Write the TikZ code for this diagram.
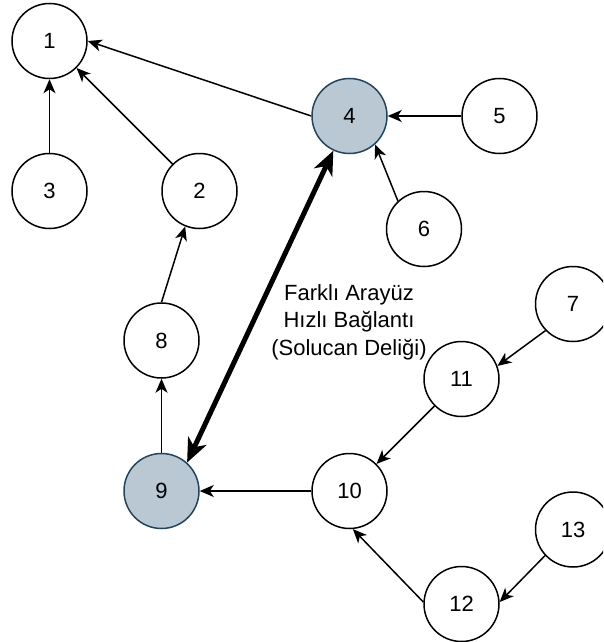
\documentclass[tikz,border=0pt]{standalone}
\usepackage{fontspec}
\setmainfont{Liberation Sans}
\usetikzlibrary{arrows.meta}
\definecolor{hubfill}{HTML}{BAC8D3}
\definecolor{hubdraw}{HTML}{23445D}
\tikzset{
x=1pt, y=-1pt, % one unit is one pixel of the sketch
every node/.style={font=\fontsize{22}{27.5}\selectfont}, % sets the text size
vertex/.style={circle, draw, line width=1.5pt, minimum size=75pt, inner sep=0pt}, % a plain node
hub/.style={vertex, fill=hubfill, draw=hubdraw}, % the two ends of the wormhole
link/.style={line width=1.5pt, -{Stealth[length=14pt, width=12pt, inset=4pt]}}, % ordinary edge
wormhole/.style={line width=5pt, {Stealth[length=24pt, width=20pt, inset=7pt]}-{Stealth[length=24pt, width=20pt, inset=7pt]}}, % the fast link
}
\begin{document}
\begin{tikzpicture}
            \clip (0,0) rectangle (603,642);
            \node[vertex] (n1) at (49.5,41) {1};
            \node[vertex] (n2) at (199.5,191) {2};
            \node[vertex] (n3) at (49.5,191) {3};
            \node[hub] (n4) at (349.5,116) {4};
            \node[vertex] (n5) at (499.5,116) {5};
            \node[vertex] (n6) at (424,229) {6};
            \node[vertex] (n7) at (573,304) {7};
            \node[vertex] (n8) at (161.5,340.5) {8};
            \node[hub] (n9) at (161.5,491) {9};
            \node[vertex] (n10) at (349.5,491) {10};
            \node[vertex] (n11) at (461.5,379) {11};
            \node[vertex] (n12) at (461.5,604) {12};
            \node[vertex] (n13) at (573,529.5) {13};
            \node[align=center] (lbl) at (349,322) {Farklı Arayüz\\Hızlı Bağlantı\\(Solucan Deliği)};

            \draw[link] (n3) -- (n1);
            \draw[link] (n2) -- (n1);
            \draw[link] (n4.west) -- (n1.east);
            \draw[link] (n5) -- (n4);
            \draw[link] (n6.133) -- (n4.-48);
            \draw[link] (n8.north) -- (n2.-112);
            \draw[link] (n9) -- (n8);
            \draw[link] (n10) -- (n9);
            \draw[link] (n11) -- (n10);
            \draw[link] (n7.224) -- (n11.20);
            \draw[link] (n12.177) -- (n10.-85);
            \draw[link] (n13.223) -- (n12.3);
            \draw[wormhole] (n9.48) -- (n4.245);
        \end{tikzpicture}
\end{document}
